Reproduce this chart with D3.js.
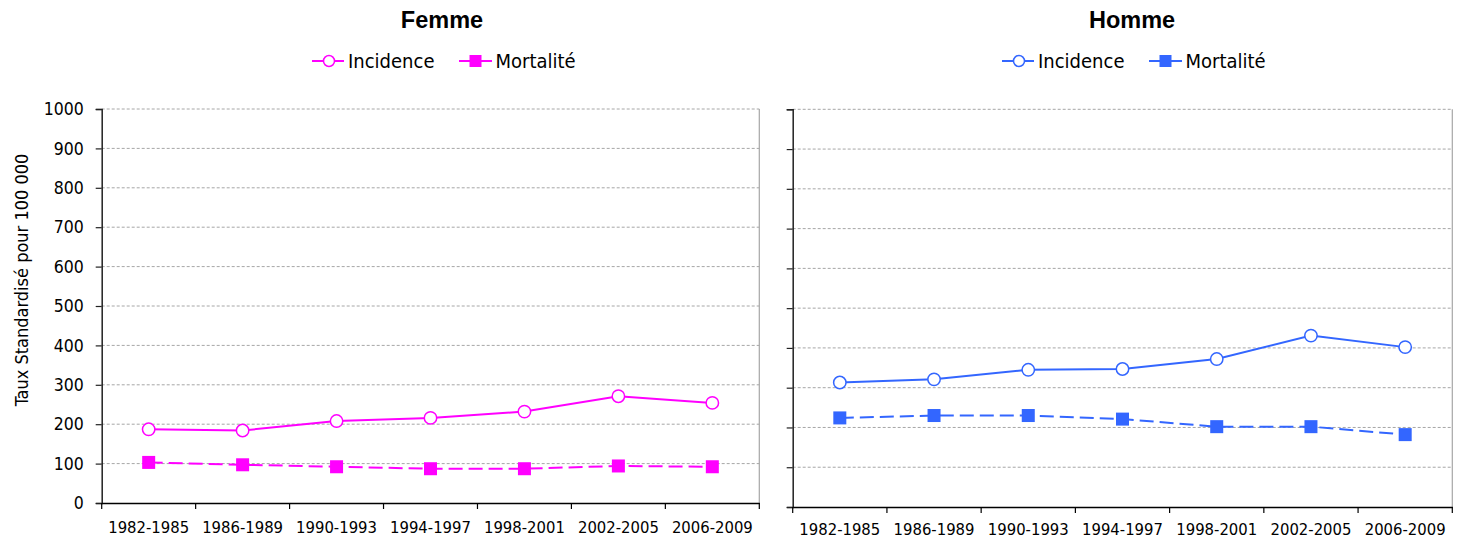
<!DOCTYPE html>
<html>
<head>
<meta charset="utf-8">
<script src="https://cdn.jsdelivr.net/npm/d3@7"></script>
<style>
  html, body { margin: 0; padding: 0; background: #fff; }
  svg { display: block; }
  .cond { font-family: "DejaVu Sans Condensed", "DejaVu Sans", sans-serif; font-stretch: condensed; }
</style>
</head>
<body>
<svg id="chart" width="1462" height="540"></svg>
<script>
const categories = ["1982-1985", "1986-1989", "1990-1993", "1994-1997", "1998-2001", "2002-2005", "2006-2009"];
const femmeIncidence = [187, 184, 208, 216, 232, 271, 254];
const femmeMortalite = [103, 97, 92, 87, 87, 94, 92];
const hommeIncidence = [313, 321, 345, 347, 372, 431, 402];
const hommeMortalite = [224, 230, 230, 221, 202, 202, 182];
const yTicks = [0, 100, 200, 300, 400, 500, 600, 700, 800, 900, 1000];
const panelTitles = ["Femme", "Homme"];
const seriesNames = ["Incidence", "Mortalité"];
const yTitle = "Taux Standardisé pour 100 000";

const svg = d3.select("#chart");

const panels = [
  { title: panelTitles[0], color: "#ff00ff", inc: femmeIncidence, mort: femmeMortalite,
    x0: 101.7, x1: 759.3, yTop: 109, yBot: 503, labels: true, titleX: 442, legendX: 312, xPad: 18 },
  { title: panelTitles[1], color: "#3366ff", inc: hommeIncidence, mort: hommeMortalite,
    x0: 792.7, x1: 1452.3, yTop: 109.3, yBot: 507, labels: false, titleX: 1132, legendX: 1002, xPad: 16 }
];

panels.forEach(p => {
  const x = d3.scaleBand().domain(categories).range([p.x0, p.x1]).padding(0);
  const y = d3.scaleLinear().domain([0, 1000]).range([p.yBot, p.yTop]);
  const g = svg.append("g");

  // gridlines
  g.append("g").selectAll("line").data(yTicks.filter(t => t > 0)).join("line")
    .attr("x1", p.x0).attr("x2", p.x1)
    .attr("y1", d => y(d)).attr("y2", d => y(d))
    .attr("stroke", "#a6a6a6").attr("stroke-width", 1).attr("stroke-dasharray", "3,2");

  // right frame
  g.append("line").attr("x1", p.x1).attr("x2", p.x1).attr("y1", y(1000)).attr("y2", y(0))
    .attr("stroke", "#a6a6a6").attr("stroke-width", 1.2);

  // y axis
  const yAxis = d3.axisLeft(y).tickValues(yTicks).tickSize(6).tickPadding(12)
    .tickFormat(p.labels ? d3.format("d") : () => "");
  const ya = g.append("g").attr("transform", `translate(${p.x0},0)`).call(yAxis);
  ya.select(".domain").attr("stroke", "#222").attr("stroke-width", 1.5);
  ya.selectAll(".tick line").attr("stroke", "#222").attr("stroke-width", 1.2);
  ya.selectAll(".tick text").attr("class", "cond").attr("font-size", 17.5).attr("fill", "#000");

  // x axis labels
  const xAxis = d3.axisBottom(x).tickSize(0).tickPadding(p.xPad).tickSizeOuter(0);
  const xa = g.append("g").attr("transform", `translate(0,${p.yBot})`).call(xAxis);
  xa.select(".domain").attr("stroke", "#000").attr("stroke-width", 1.5);
  xa.selectAll(".tick text").attr("class", "cond").attr("font-size", 16.5).attr("fill", "#000");
  // boundary ticks
  const edges = categories.map(c => x(c)).concat([x.range()[1]]);
  g.append("g").selectAll("line").data(edges).join("line")
    .attr("x1", d => d).attr("x2", d => d).attr("y1", p.yBot).attr("y2", p.yBot + 6)
    .attr("stroke", "#000").attr("stroke-width", 1.2);

  const cx = (d, i) => x(categories[i]) + x.bandwidth() / 2;

  // mortalité dashed line
  const line = d3.line().x((d, i) => cx(d, i)).y(d => y(d));
  g.append("path").datum(p.mort).attr("d", line).attr("fill", "none")
    .attr("stroke", p.color).attr("stroke-width", 2).attr("stroke-dasharray", "14,6");
  // incidence solid line
  g.append("path").datum(p.inc).attr("d", line).attr("fill", "none")
    .attr("stroke", p.color).attr("stroke-width", 2);

  // squares
  g.append("g").selectAll("rect").data(p.mort).join("rect")
    .attr("x", (d, i) => cx(d, i) - 6.5).attr("y", d => y(d) - 6.5)
    .attr("width", 13).attr("height", 13).attr("fill", p.color);
  // circles
  g.append("g").selectAll("circle").data(p.inc).join("circle")
    .attr("cx", (d, i) => cx(d, i)).attr("cy", d => y(d)).attr("r", 6.2)
    .attr("fill", "#fff").attr("stroke", p.color).attr("stroke-width", 1.5);

  // title
  svg.append("text").attr("x", p.titleX).attr("y", 28).attr("text-anchor", "middle")
    .attr("font-family", "Liberation Sans, Arial, sans-serif").attr("font-weight", "bold")
    .attr("font-size", 23.5).attr("fill", "#000").text(p.title);

  // legend
  const lg = svg.append("g").attr("transform", `translate(${p.legendX},61)`);
  lg.append("line").attr("x1", 0).attr("x2", 32).attr("y1", 0).attr("y2", 0)
    .attr("stroke", p.color).attr("stroke-width", 2);
  lg.append("circle").attr("cx", 17).attr("cy", 0).attr("r", 5.5)
    .attr("fill", "#fff").attr("stroke", p.color).attr("stroke-width", 1.5);
  lg.append("text").attr("class", "cond").attr("x", 36).attr("y", 7)
    .attr("font-size", 20).attr("fill", "#000").text(seriesNames[0]);
  lg.append("line").attr("x1", 147).attr("x2", 180).attr("y1", 0).attr("y2", 0)
    .attr("stroke", p.color).attr("stroke-width", 2);
  lg.append("rect").attr("x", 163.5 - 6).attr("y", -6).attr("width", 12).attr("height", 12)
    .attr("fill", p.color);
  lg.append("text").attr("class", "cond").attr("x", 183.5).attr("y", 7)
    .attr("font-size", 20).attr("fill", "#000").text(seriesNames[1]);
});

// y axis title
svg.append("text").attr("class", "cond")
  .attr("transform", "translate(22,280) rotate(-90)")
  .attr("text-anchor", "middle").attr("dy", "0.35em")
  .attr("font-size", 18).attr("fill", "#000").text(yTitle);
</script>
</body>
</html>
